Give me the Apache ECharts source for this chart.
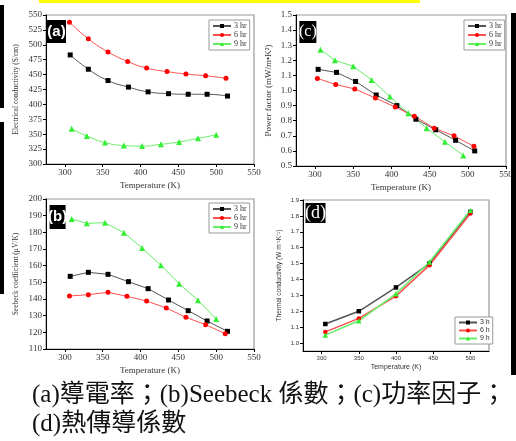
<!DOCTYPE html>
<html><head><meta charset="utf-8">
<script src="https://cdn.jsdelivr.net/npm/echarts@6/dist/echarts.min.js"></script>
<style>html,body{margin:0;padding:0;background:#fff}#c{width:516px;height:441px}</style>
</head><body><div id="c"></div>
<script>
// ---- data ----
// (a) electrical conductivity (S/cm)
const aT3 = [307,331,357,384,410,437,463,488,515];
const aV3 = [483,459,440,429,421,418,417,417,414];
const aT6 = [306,331,357,383,408,435,460,486,513];
const aV6 = [538,510,488,472,461,455,451,448,444];
const aT9 = [309,329,353,378,402,427,451,476,500];
const aV9 = [359,347,336,331,330,333,337,343,349];
// (b) Seebeck coefficient (uV/K)
const bT3 = [307,331,357,384,410,437,463,488,515];
const bV3 = [153.6,156,154.8,150.4,146.2,139.4,133,126.8,120.6];
const bT6 = [306,331,357,382,408,434,460,486,512];
const bV6 = [141.8,142.6,144,141.6,138.8,134.6,129,124.6,119.2];
const bT9 = [309,329,353,378,402,427,451,476,500];
const bV9 = [188,185.4,185.8,179.8,170.6,160.2,149.2,139.2,128];
// (c) power factor (mW/m K^2)
const cT3 = [304,328,353,380,407,432,458,484,509];
const cV3 = [1.14,1.12,1.06,0.97,0.90,0.81,0.74,0.67,0.60];
const cT6 = [303,327,352,379,405,430,456,482,508];
const cV6 = [1.08,1.04,1.01,0.95,0.89,0.83,0.75,0.70,0.63];
const cT9 = [307,326,350,374,398,422,446,470,494];
const cV9 = [1.27,1.20,1.16,1.07,0.96,0.85,0.75,0.66,0.57];
// (d) thermal conductivity (W m-1 K-1)
const dT = [305,350,400,445,500];
const dV3 = [1.12,1.20,1.35,1.50,1.825];
const dV6 = [1.07,1.155,1.295,1.49,1.815];
const dV9 = [1.05,1.14,1.31,1.51,1.835];
// names / ticks
const namesHr = ['3 hr','6 hr','9 hr'];
const namesH = ['3 h','6 h','9 h'];
const xTicksABC = [300,350,400,450,500,550];
const xTicksD = [300,350,400,450,500];
const yTicksA = [300,325,350,375,400,425,450,475,500,525,550];
const yTicksB = [110,120,130,140,150,160,170,180,190,200];
const yTicksC = [0.5,0.6,0.7,0.8,0.9,1.0,1.1,1.2,1.3,1.4,1.5];
const yTicksD = [1.0,1.1,1.2,1.3,1.4,1.5,1.6,1.7,1.8,1.9];

const SERIF = "'Liberation Serif','Times New Roman',serif";
const SANS = "'Liberation Sans',Arial,sans-serif";
const TXT = '#333';

function axis(gi, min, max, ticks, fs, ff, name, nameFs, nameGap, fmt) {
  return {
    type:'value', gridIndex:gi, min:min, max:max,
    name:name, nameLocation:'middle', nameGap:nameGap,
    nameTextStyle:{fontSize:nameFs, fontFamily:ff, color:TXT},
    axisLine:{show:true, onZero:false, lineStyle:{color:'#000', width:1}},
    axisTick:{show:true, length:3, customValues:ticks, lineStyle:{color:'#000', width:1}},
    axisLabel:{customValues:ticks, fontSize:fs, fontFamily:ff, color:TXT, margin:4,
      formatter: fmt || (v => String(v))},
    splitLine:{show:false}
  };
}
const f1 = v => (Math.round(v*10)/10).toFixed(1);

const styles = [
  {color:'#000', line:'#555', symbol:'rect', size:5},
  {color:'#ff0000', line:'#ff5050', symbol:'circle', size:5},
  {color:'#33ee33', line:'#66ee66', symbol:'triangle', size:6}
];
function ser(name, xs, ys, gi, k, smooth, lw, sizeScale) {
  const s = styles[k];
  return {
    type:'line', name:name, xAxisIndex:gi, yAxisIndex:gi,
    data: xs.map((x,i)=>[x, ys[i]]),
    symbol:s.symbol, symbolSize:s.size*(sizeScale||1), smooth:smooth,
    itemStyle:{color:s.color}, lineStyle:{color:s.line, width:lw},
    emphasis:{disabled:true}
  };
}
function legend(left, top, data, fs, ff) {
  return {
    left:left, top:top, orient:'vertical', data:data,
    itemWidth:18, itemHeight:5, itemGap:1, padding:[2,3,2,3],
    borderColor:'#999', borderWidth:1, backgroundColor:'#fff',
    textStyle:{fontSize:fs, fontFamily:ff, color:TXT, padding:[0,0,0,-2]},
    selectedMode:false
  };
}
function panelLabel(x, y, w, h, text, font) {
  return {type:'group', left:x, top:y, z:100, children:[
    {type:'rect', shape:{x:0, y:0, width:w, height:h}, style:{fill:'#000'}},
    {type:'text', x:w/2, y:h/2, style:{text:text, fill:'#fff', font:font, align:'center', verticalAlign:'middle'}}
  ]};
}

const gridStyle = {show:true, borderColor:'#999', borderWidth:1.2, backgroundColor:'transparent'};
const option = {
  animation:false,
  backgroundColor:'#fff',
  grid:[
    Object.assign({left:46, top:15, width:208, height:149}, gridStyle),
    Object.assign({left:46, top:199, width:208, height:150}, gridStyle),
    Object.assign({left:296, top:15, width:210, height:151}, gridStyle),
    Object.assign({left:303, top:200, width:186, height:151}, gridStyle)
  ],
  xAxis:[
    axis(0, 275, 550, xTicksABC, 9, SERIF, 'Temperature (K)', 9, 17),
    axis(1, 275, 550, xTicksABC, 9, SERIF, 'Temperature (K)', 9, 17),
    axis(2, 275, 550, xTicksABC, 9, SERIF, 'Temperature (K)', 9, 17),
    axis(3, 275, 525, xTicksD, 6, SANS, 'Temperature (K)', 7, 13)
  ],
  yAxis:[
    axis(0, 300, 550, yTicksA, 9, SERIF, 'Electrical conductivity (S/cm)', 7.5, 26),
    axis(1, 110, 200, yTicksB, 9, SERIF, 'Seebeck coefficient (\u03bcV/K)', 7.5, 26),
    axis(2, 0.5, 1.5, yTicksC, 9, SERIF, 'Power factor (mW/m\u2022K\u00b2)', 9, 23, f1),
    axis(3, 0.95, 1.9, yTicksD, 6, SANS, 'Thermal conductivity (W m\u207b\u00b9K\u207b\u00b9)', 6.5, 20, f1)
  ],
  legend:[
    legend(209, 20, namesHr, 8, SERIF),
    legend(209, 203, namesHr, 8, SERIF),
    legend(464, 20, namesHr, 8, SERIF),
    legend(455, 317, namesH, 7, SANS)
  ],
  series:[
    ser('3 hr', aT3, aV3, 0, 0, true, 1),
    ser('6 hr', aT6, aV6, 0, 1, true, 1),
    ser('9 hr', aT9, aV9, 0, 2, true, 1),
    ser('3 hr', bT3, bV3, 1, 0, false, 1),
    ser('6 hr', bT6, bV6, 1, 1, false, 1),
    ser('9 hr', bT9, bV9, 1, 2, false, 1),
    ser('3 hr', cT3, cV3, 2, 0, false, 1),
    ser('6 hr', cT6, cV6, 2, 1, false, 1),
    ser('9 hr', cT9, cV9, 2, 2, false, 1),
    ser('3 h', dT, dV3, 3, 0, false, 1.5, 0.9),
    ser('6 h', dT, dV6, 3, 1, false, 1.5, 0.9),
    ser('9 h', dT, dV9, 3, 2, false, 1.5, 0.9)
  ],
  graphic:[
    {type:'rect', left:39, top:0, z:50, shape:{width:381, height:3}, style:{fill:'#ffff00'}},
    {type:'rect', left:0, top:5, z:50, shape:{width:4, height:103}, style:{fill:'#000'}},
    {type:'rect', left:0, top:122, z:50, shape:{width:4, height:172}, style:{fill:'#000'}},
    {type:'rect', left:511, top:13, z:50, shape:{width:5, height:362}, style:{fill:'#000'}},
    panelLabel(47, 20, 19, 23, '(a)', "bold 15px 'Liberation Sans'"),
    panelLabel(48, 205, 16, 24, '(b)', "bold 15px 'Liberation Sans'"),
    panelLabel(299, 21, 17, 22, '(c)', "16px 'Liberation Serif'"),
    panelLabel(305, 203, 20, 20, '(d)', "18px 'Liberation Serif'"),
    {type:'text', left:32, top:383, z:100, style:{text:'(a)導電率；(b)Seebeck 係數；(c)功率因子；', fill:'#111',
      font:"25px 'Liberation Serif','Noto Sans CJK TC'"}},
    {type:'text', left:32, top:412, z:100, style:{text:'(d)熱傳導係數', fill:'#111',
      font:"25px 'Liberation Serif','Noto Sans CJK TC'"}}
  ]
};
const chart = echarts.init(document.getElementById('c'), null, {renderer:'canvas'});
chart.setOption(option);
</script>
</body></html>
